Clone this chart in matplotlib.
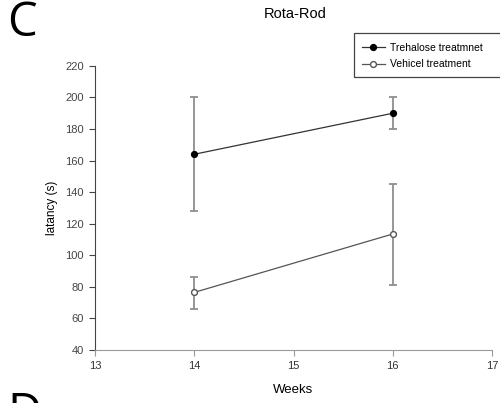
import matplotlib.pyplot as plt
from matplotlib.patches import Rectangle

weeks = [14, 16]
trehalose = [164, 190]
trehalose_lo = [128, 180]
trehalose_hi = [200, 200]
vehicle = [76.5, 113.5]
vehicle_lo = [66, 81]
vehicle_hi = [86, 145]

plt.rcParams['font.family'] = ['Liberation Sans', 'DejaVu Sans']

fig = plt.figure(figsize=(5, 4.03), dpi=100)
ax = fig.add_axes([0.19, 0.1315, 0.794, 0.705])

def errs(vals, lo, hi):
    return [[v - l for v, l in zip(vals, lo)], [h - v for v, h in zip(vals, hi)]]

ax.errorbar(weeks, trehalose, yerr=errs(trehalose, trehalose_lo, trehalose_hi),
            fmt='none', ecolor='#8f8f8f', elinewidth=1.3, capsize=2.6, capthick=1.3)
ax.errorbar(weeks, vehicle, yerr=errs(vehicle, vehicle_lo, vehicle_hi),
            fmt='none', ecolor='#8f8f8f', elinewidth=1.3, capsize=2.6, capthick=1.3)
ax.plot(weeks, trehalose, color='#333333', lw=0.9, marker='o', ms=4.2,
        mfc='black', mec='black', label='Trehalose treatmnet', zorder=3)
ax.plot(weeks, vehicle, color='#555555', lw=0.9, marker='o', ms=4.2,
        mfc='white', mec='#555555', label='Vehicel treatment', zorder=3)

ax.set_xlim(13, 17)
ax.set_ylim(40, 220)
ax.set_xticks([13, 14, 15, 16, 17])
ax.set_yticks(range(40, 221, 20))
for s in ['top', 'right']:
    ax.spines[s].set_visible(False)
ax.spines['left'].set_color('#444444')
ax.spines['bottom'].set_color('#999999')
ax.tick_params(direction='out', length=4, width=0.8, labelsize=8,
               colors='#444444', pad=4)
ax.tick_params(axis='x', colors='#999999', labelcolor='#333333')
ax.set_xlabel('Weeks', fontsize=9.5, labelpad=9)
ax.set_ylabel('latancy (s)', fontsize=8.5, labelpad=5)

fig.text(0.59, 0.965, 'Rota-Rod', ha='center', va='center', fontsize=10.5)
fig.text(0.014, 1 - 36 / 403, 'C', fontsize=34, family='Open Sans',
         va='baseline', ha='left')
fig.text(0.014, 1 - 427 / 403, 'D', fontsize=34, family='Open Sans',
         va='baseline', ha='left')

# legend frame runs past the right edge of the figure
fig.add_artist(Rectangle((354 / 500, 1 - 77 / 403), 160 / 500, 44 / 403,
                         transform=fig.transFigure, fill=False,
                         edgecolor='#444444', lw=0.9))
leg = fig.legend(loc='upper left', bbox_to_anchor=(0.724, 0.893), fontsize=7.5,
                 frameon=False, handlelength=2.2, handletextpad=0.5,
                 labelspacing=0.6, borderpad=0, borderaxespad=0)

fig.savefig('out.png', dpi=100)
